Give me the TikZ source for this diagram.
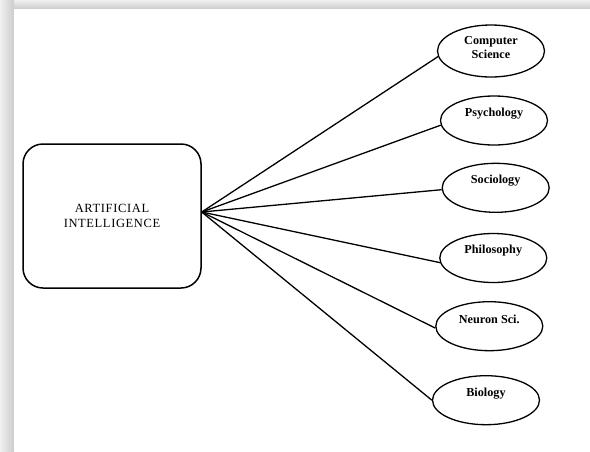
\documentclass[tikz,border=0pt]{standalone}
\usepackage{fontspec}
\setmainfont{Liberation Serif}
\usetikzlibrary{shapes.geometric}

\tikzset{
  mainbox/.style={draw, line width=1.5pt, rounded corners=20pt, minimum width=178pt, minimum height=144pt,
    align=center, font=\fontsize{12.5}{15}\selectfont\addfontfeatures{LetterSpace=5}},
  topic/.style={ellipse, draw, line width=1.3pt, minimum width=107pt, minimum height=49pt},
  topictext/.style={yshift=7pt, align=center, font=\fontsize{12.2}{13.3}\selectfont\bfseries},
  link/.style={line width=1.3pt}
}

\begin{document}
\begin{tikzpicture}[x=1pt,y=-1pt]
	\useasboundingbox (0,0) rectangle (590,451);
	% page shadow
	\shade[top color=gray!12, bottom color=gray!40] (0,0) rectangle (590,9);
	\shade[left color=gray!12, right color=gray!40] (0,0) rectangle (14,451);
	\fill[white] (14,9) rectangle (590,451);

	\node[mainbox] (ai) at (112,216) {ARTIFICIAL\\INTELLIGENCE};
	\coordinate (hub) at ([yshift=4pt]ai.east);

	\node[topic, minimum height=52pt, label={[topictext, yshift=-3.5pt]center:Computer\\Science}] (cs) at (491,51) {};
	\node[topic, label={[topictext]center:Psychology}] (psy) at (494,120.5) {};
	\node[topic, label={[topictext]center:Sociology}] (soc) at (495.7,187.8) {};
	\node[topic, label={[topictext]center:Philosophy}] (phil) at (493.3,258) {};
	\node[topic, label={[topictext]center:Neuron Sci.}] (neu) at (489.3,326.2) {};
	\node[topic, label={[topictext]center:Biology}] (bio) at (486,400.2) {};

	% links from the hub
	\draw[link] (hub) -- (cs.186);
	\draw[link] (hub) -- (psy.185);
	\draw[link] (hub) -- (soc.182);
	\draw[link] (hub) -- (phil.185);
	\draw[link] (hub) -- (neu.182);
	\draw[link] (hub) -- (bio.west);
\end{tikzpicture}
\end{document}
